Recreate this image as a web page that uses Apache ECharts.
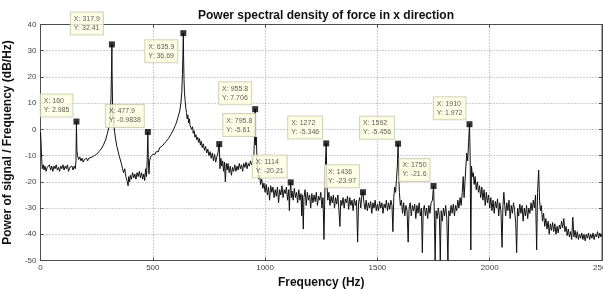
<!DOCTYPE html>
<html>
<head>
<meta charset="utf-8">
<script src="https://cdn.jsdelivr.net/npm/echarts/dist/echarts.min.js"></script>
<style>
  html, body { margin: 0; padding: 0; background: #fff; }
  .EC { width: 603px; height: 289px; }
</style>
</head>
<body>
<div class="EC"></div>
<script>
// PSD trace, [Hz, dB/Hz]
let psd0to500 = [
    [0, -1], [2, -4], [5, -11], [8, -15], [12, -13.5], [16, -15.5], [20, -14], [25, -16], [30, -14.5], [35, -15],
    [40, -13.5], [45, -15.5], [50, -14], [55, -16], [60, -14], [65, -15], [70, -13.5], [75, -15.5], [80, -14.5], [85, -16],
    [90, -14], [95, -15], [100, -13.5], [105, -15.5], [110, -14], [115, -15], [120, -13.5], [125, -16], [130, -14.5], [135, -15],
    [140, -14], [145, -15.5], [150, -14], [155, -15], [158, -12], [160, 2.985], [162, -8], [165, -10], [170, -11.5], [175, -10.5],
    [180, -12], [185, -11], [190, -12.5], [195, -11.5], [200, -12], [205, -11], [210, -12], [215, -11], [220, -11.5], [230, -10.5],
    [240, -10], [250, -9.5], [260, -8.5], [270, -7.5], [280, -6], [290, -4], [298, -1.5], [305, 1], [310, 5], [314, 12],
    [316, 22], [317.9, 32.41], [319, 20], [321, 9], [325, 3], [330, -1], [335, -4], [340, -6.5], [350, -10], [360, -13],
    [365, -15], [370, -16.5], [375, -15], [380, -18], [385, -19.5], [390, -21.5], [393, -18], [397, -20], [400, -17.5], [405, -19],
    [410, -16.5], [415, -18.5], [420, -17], [425, -19], [430, -16.5], [435, -18], [440, -16], [445, -18.5], [450, -16.5], [455, -19],
    [460, -17], [464, -19.5], [468, -15], [472, -18], [475, -12], [477.9, -0.9838], [480, -11], [483, -17], [486, -12], [490, -10.5],
    [495, -11], [500, -9.5]
]
let psd500to1000 = [
    [505, -9], [510, -9.5], [515, -8.5], [520, -8], [525, -8.5], [530, -7], [535, -7.5], [540, -6.5], [545, -6], [550, -5.5],
    [555, -6], [560, -4.5], [565, -5], [570, -3.5], [575, -3], [580, -2], [585, -2.5], [590, -0.5], [595, 0.5], [600, 1.5],
    [605, 2.5], [610, 4], [615, 5.5], [620, 7], [625, 10], [629, 14], [632, 21], [634, 28], [635.9, 36.69], [637, 28],
    [639, 19], [641, 14], [644, 11], [647, 8], [650, 6.5], [653, 4], [656, 5.5], [660, 2.5], [663, 4], [666, 1.5],
    [670, 2], [673, 0], [677, 1], [680, -1.5], [684, -0.5], [688, -3], [692, -2], [696, -4], [700, -3], [704, -5],
    [708, -3.5], [712, -6], [716, -4.5], [720, -7], [725, -5.5], [730, -8], [735, -6.5], [740, -9], [745, -7.5], [750, -10],
    [755, -8.5], [760, -11], [765, -9], [770, -12], [775, -9.5], [780, -12.5], [785, -10.5], [790, -9], [795.8, -5.61], [799, -15],
    [803, -11], [807, -14], [811, -12], [815, -16], [819, -12.5], [823, -20], [827, -13], [831, -15.5], [835, -13], [840, -16.5],
    [845, -14], [850, -17.5], [855, -14.5], [860, -16], [865, -13.5], [870, -16], [875, -14], [880, -15.5], [885, -13], [890, -15],
    [895, -13.5], [900, -16], [905, -13], [910, -14.5], [915, -12.5], [920, -15], [925, -13], [930, -14], [935, -12], [940, -13.5],
    [945, -12], [950, -10], [953, -3], [955.8, 7.706], [958, -6], [961, -3], [964, -12], [968, -16], [972, -19], [976, -17.5],
    [980, -21], [985, -19], [990, -22.5], [995, -20.5], [1000, -24]
]
let psd1000to1500 = [
    [1005, -21], [1010, -25], [1015, -22], [1020, -27], [1025, -21.5], [1030, -24], [1035, -22], [1040, -26], [1045, -23], [1050, -25.5],
    [1055, -22], [1060, -28], [1065, -23], [1070, -25], [1075, -21.5], [1080, -26], [1085, -23], [1090, -24.5], [1095, -22], [1100, -27],
    [1105, -23], [1108, -31], [1111, -24], [1114, -20.21], [1117, -26], [1120, -23.5], [1125, -27], [1130, -22.5], [1135, -26], [1140, -24],
    [1145, -28], [1150, -23], [1155, -27], [1160, -24.5], [1163, -33], [1166, -25], [1170, -38], [1173, -26], [1178, -23], [1183, -29],
    [1188, -24], [1193, -27], [1198, -25], [1203, -30], [1208, -24.5], [1213, -28], [1218, -25], [1223, -27.5], [1228, -24], [1233, -29],
    [1238, -25.5], [1243, -27], [1248, -24], [1253, -30], [1258, -26], [1262, -42], [1266, -25], [1269, -12], [1272, -5.346], [1275, -20],
    [1279, -27], [1284, -24], [1289, -29], [1294, -25.5], [1299, -28], [1304, -25], [1309, -30], [1314, -26], [1319, -28.5], [1324, -25],
    [1329, -31], [1333, -37], [1337, -27], [1342, -29], [1347, -26], [1352, -30], [1357, -26.5], [1362, -28], [1367, -25.5], [1372, -30.5],
    [1377, -26], [1382, -29], [1387, -27], [1392, -31], [1397, -26.5], [1402, -29], [1407, -27], [1412, -43], [1416, -28], [1421, -26],
    [1426, -30], [1431, -25], [1436, -23.97], [1440, -28], [1445, -30.5], [1450, -27], [1455, -31], [1460, -28], [1465, -30], [1470, -27.5],
    [1475, -32], [1480, -28], [1485, -30], [1490, -27], [1495, -31], [1500, -28.5]
]
let psd1500to2000 = [
    [1505, -31], [1510, -27.5], [1515, -30], [1520, -28], [1525, -32], [1530, -28.5], [1535, -30], [1540, -27], [1545, -31], [1550, -28],
    [1555, -30.5], [1560, -27], [1565, -29], [1569, -39], [1573, -26], [1577, -22], [1581, -24], [1585, -19], [1589, -14], [1592, -5.456],
    [1595, -18], [1598, -24], [1602, -29], [1607, -27], [1612, -32], [1617, -28], [1622, -33], [1627, -29], [1632, -31], [1637, -43],
    [1641, -30], [1646, -28], [1651, -33], [1656, -29], [1661, -31], [1666, -28.5], [1671, -34], [1676, -29], [1681, -32], [1686, -28],
    [1691, -33], [1696, -30], [1700, -47], [1704, -31], [1709, -29], [1714, -33], [1719, -30], [1724, -34], [1729, -29], [1734, -32],
    [1739, -28], [1745, -27], [1750, -21.6], [1753, -30], [1757, -50], [1761, -31], [1766, -34], [1771, -30], [1776, -33], [1780, -50],
    [1784, -31], [1789, -35], [1794, -30], [1799, -33], [1804, -29], [1809, -34], [1814, -50], [1818, -31], [1823, -33], [1828, -29],
    [1833, -32], [1838, -28.5], [1843, -33], [1848, -29], [1853, -31], [1858, -27], [1863, -30], [1868, -26], [1873, -29], [1878, -24],
    [1882, -18], [1886, -26], [1890, -20], [1894, -14], [1898, -9], [1902, -12], [1906, -5], [1910, 1.972], [1913, -10], [1916, -46],
    [1919, -14], [1923, -18], [1927, -16.5], [1931, -21], [1935, -18], [1940, -23], [1945, -20], [1950, -24], [1955, -21.5], [1960, -26],
    [1965, -22], [1970, -27], [1975, -23], [1980, -29], [1985, -24], [1990, -28], [1995, -25], [2000, -30]
]
let psd2000to2500 = [
    [2005, -26], [2010, -31], [2015, -27], [2020, -32], [2025, -27.5], [2030, -30], [2035, -26.5], [2040, -33], [2045, -28], [2050, -31],
    [2055, -45], [2059, -29], [2063, -24], [2067, -29], [2071, -33], [2076, -28], [2081, -31], [2086, -27], [2091, -34], [2096, -29],
    [2101, -32], [2106, -28], [2111, -31], [2116, -36], [2120, -47], [2124, -30], [2129, -33], [2134, -28.5], [2139, -32], [2144, -29],
    [2149, -35], [2154, -30], [2159, -33], [2164, -29], [2169, -34], [2174, -30], [2179, -32], [2184, -28], [2189, -31], [2194, -27],
    [2199, -30], [2204, -25], [2209, -46], [2213, -24], [2218, -15.5], [2222, -27], [2226, -31], [2230, -29], [2235, -35], [2240, -32],
    [2245, -37], [2250, -34], [2255, -38], [2260, -35], [2265, -40], [2270, -36], [2275, -38.5], [2280, -35.5], [2285, -39], [2290, -36],
    [2295, -40], [2300, -37], [2305, -39.5], [2310, -36.5], [2315, -38], [2320, -35], [2325, -37.5], [2330, -34], [2335, -39], [2340, -37],
    [2345, -40.5], [2350, -38], [2355, -41], [2360, -39], [2365, -42], [2370, -33.5], [2375, -41], [2380, -38.5], [2385, -41.5], [2390, -39],
    [2395, -42], [2400, -40], [2405, -41.5], [2410, -39.5], [2415, -42], [2420, -40], [2425, -42.5], [2430, -40], [2435, -41.5], [2440, -39.5],
    [2445, -42], [2450, -40], [2455, -41.5], [2460, -39.5], [2465, -42], [2470, -40], [2475, -41], [2480, -39], [2485, -41.5], [2490, -39.5],
    [2495, -41], [2500, -40]
]

// data tips
let tipX = ['160', '317.9', '477.9', '635.9', '795.8', '955.8', '1114', '1272', '1436', '1592', '1750', '1910']
let tipY = ['2.985', '32.41', '-0.9838', '36.69', '-5.61', '7.706', '-20.21', '-5.346', '-23.97', '-5.456', '-21.6', '1.972']

let xTicks = [0, 500, 1000, 1500, 2000, 2500]
let yTicks = [-50, -40, -30, -20, -10, 0, 10, 20, 30, 40]

// where each tip box sits relative to its marker
let tipSide = ['ul', 'ulFar', 'ul', 'll', 'ur', 'ul', 'ul', 'ul', 'ul', 'ul', 'ul', 'ul']
let sideStyle = {
    ul: { position: [-1, -2], align: 'right', verticalAlign: 'bottom' },
    ulFar: { position: [-6, -7], align: 'right', verticalAlign: 'bottom' },
    ll: { position: [-3, 10], align: 'right', verticalAlign: 'top' },
    ur: { position: [7, -5], align: 'left', verticalAlign: 'bottom' }
}

let psd = psd0to500.concat(psd500to1000, psd1000to1500, psd1500to2000, psd2000to2500)

let tips = tipX.map((x, i) => {
    return {
        value: [parseFloat(x), parseFloat(tipY[i])],
        label: Object.assign({ formatter: '{t|X: ' + x + '}\n{t|Y: ' + tipY[i] + '}' }, sideStyle[tipSide[i]])
    }
})

let font = 'Liberation Sans, Arial, sans-serif'
let boxColor = '#4d4d4d'
let nameStyle = { fontFamily: font, fontSize: 12, fontWeight: 'bold', color: '#111' }

let EC = echarts.init(document.querySelector('.EC'), null, { renderer: 'canvas' })

let option = {
    animation: false,
    backgroundColor: '#fff',
    title: {
        text: 'Power spectral density of force in x direction',
        left: 321,
        top: 5,
        textAlign: 'center',
        textStyle: nameStyle
    },
    grid: {
        left: 40.5,
        right: 1,
        top: 24.5,
        bottom: 28.5,
        outerBoundsMode: 'none',
        containLabel: false,
        show: true,
        borderColor: boxColor,
        borderWidth: 1,
        backgroundColor: '#fff'
    },
    xAxis: [{
        type: 'value',
        min: xTicks[0],
        max: xTicks[xTicks.length - 1],
        interval: xTicks[1] - xTicks[0],
        name: 'Frequency (Hz)',
        nameLocation: 'middle',
        nameGap: 13,
        nameTextStyle: nameStyle,
        axisLine: { show: true, onZero: false, lineStyle: { color: boxColor } },
        axisTick: { show: true, inside: true, length: 3, lineStyle: { color: boxColor } },
        axisLabel: { fontFamily: font, fontSize: 8, color: '#444', margin: 3, formatter: v => String(v) },
        splitLine: { show: true, lineStyle: { color: '#9a9a9a', type: [1, 2] } }
    }, {
        type: 'value',
        position: 'top',
        min: xTicks[0],
        max: xTicks[xTicks.length - 1],
        interval: xTicks[1] - xTicks[0],
        axisLine: { show: true, onZero: false, lineStyle: { color: boxColor } },
        axisTick: { show: true, inside: true, length: 3, lineStyle: { color: boxColor } },
        axisLabel: { show: false },
        splitLine: { show: false }
    }],
    yAxis: [{
        type: 'value',
        min: yTicks[0],
        max: yTicks[yTicks.length - 1],
        interval: yTicks[1] - yTicks[0],
        name: 'Power of signal / Frequency (dB/Hz)',
        nameLocation: 'middle',
        nameGap: 19,
        nameTextStyle: nameStyle,
        axisLine: { show: true, onZero: false, lineStyle: { color: boxColor } },
        axisTick: { show: true, inside: true, length: 3, lineStyle: { color: boxColor } },
        axisLabel: { fontFamily: font, fontSize: 8, color: '#444', margin: 4 },
        splitLine: { show: true, lineStyle: { color: '#9a9a9a', type: [1, 2] } }
    }, {
        type: 'value',
        position: 'right',
        min: yTicks[0],
        max: yTicks[yTicks.length - 1],
        interval: yTicks[1] - yTicks[0],
        axisLine: { show: true, onZero: false, lineStyle: { color: boxColor } },
        axisTick: { show: true, inside: true, length: 3, lineStyle: { color: boxColor } },
        axisLabel: { show: false },
        splitLine: { show: false }
    }],
    series: [{
        type: 'line',
        data: psd,
        showSymbol: false,
        sampling: null,
        lineStyle: { color: '#111', width: 1 },
        z: 2
    }, {
        type: 'scatter',
        data: tips,
        symbol: 'rect',
        symbolSize: 6,
        itemStyle: { color: '#000' },
        label: {
            show: true,
            backgroundColor: '#ffffe1',
            borderColor: '#c9c9b0',
            borderWidth: 1,
            padding: [2, 3, 2, 3],
            rich: {
                t: { fontFamily: font, fontSize: 7, lineHeight: 9, color: '#333', align: 'left' }
            }
        },
        z: 5
    }]
}
EC.setOption(option)
</script>
</body>
</html>
